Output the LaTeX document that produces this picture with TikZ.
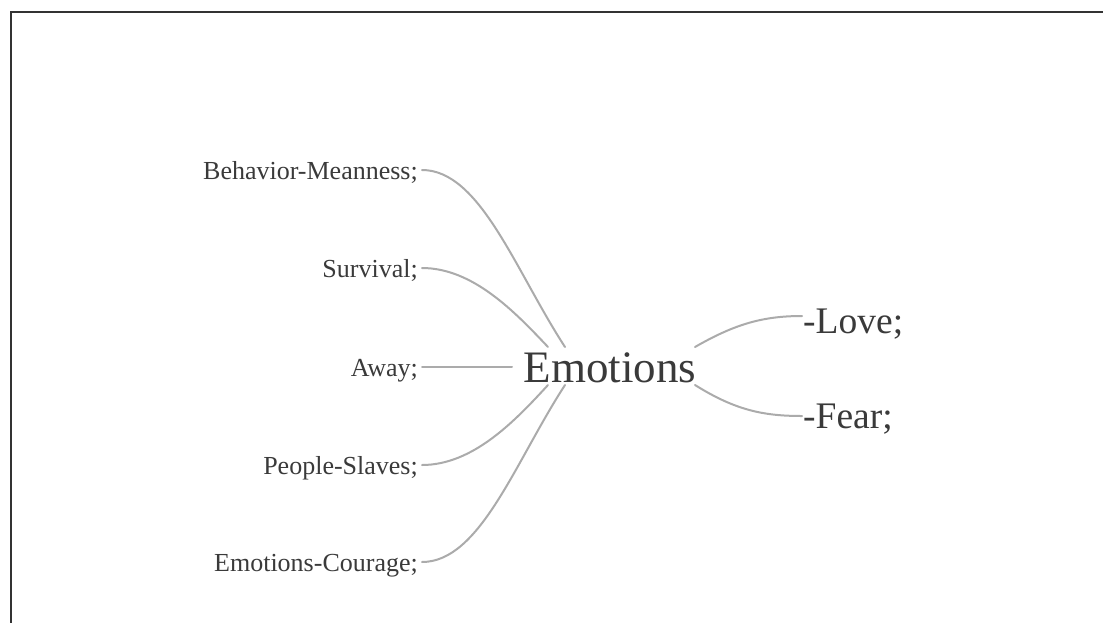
\documentclass[tikz,border=0pt]{standalone}
\usepackage{fontspec}
\setmainfont{Liberation Serif}
\usetikzlibrary{calc}
\definecolor{txt}{HTML}{3A3A3A}
\definecolor{lnk}{HTML}{ABABAB}
\definecolor{frm}{HTML}{333333}
\begin{document}
\begin{tikzpicture}[x=1pt,y=-1pt,
  leaf/.style={inner sep=0pt,text=txt,anchor=base east,font=\fontsize{26}{30}\selectfont},
  rleaf/.style={inner sep=0pt,text=txt,anchor=base west,font=\fontsize{37.5}{42}\selectfont},
  root/.style={inner sep=0pt,text=txt,anchor=base,font=\fontsize{45}{52}\selectfont},
  link/.style={draw=lnk,line width=2pt,line cap=round}]
\useasboundingbox (0,0) rectangle (1103,622);
\draw[frm,line width=2pt] (10.5,630) -- (10.5,11.5) -- (1110,11.5);

\node[root] (em) at (610,382) {Emotions};

\node[leaf] (b) at (418,179) {Behavior-Meanness;};
\node[leaf] (s) at (418,277) {Survival;};
\node[leaf] (a) at (418,376) {Away;};
\node[leaf] (p) at (418,474) {People-Slaves;};
\node[leaf] (c) at (418,571) {Emotions-Courage;};

\node[rleaf] (l) at (803,333) {-Love;};
\node[rleaf] (f) at (803,428) {-Fear;};

% left links
\draw[link] ($(b.base east)+(4,-9)$) .. controls ($(b.base east)+(62,-9)$) and ($(em.base)+(-95,-112)$) .. ($(em.base)+(-45,-35)$);
\draw[link] ($(s.base east)+(4,-9)$) .. controls ($(s.base east)+(55,-9)$) and ($(em.base)+(-95,-70)$) .. ($(em.base)+(-62,-35)$);
\draw[link] ($(a.base east)+(4,-9)$) -- ($(em.base)+(-98,-15)$);
\draw[link] ($(p.base east)+(4,-9)$) .. controls ($(p.base east)+(55,-9)$) and ($(em.base)+(-95,39)$) .. ($(em.base)+(-62,3)$);
\draw[link] ($(c.base east)+(4,-9)$) .. controls ($(c.base east)+(62,-9)$) and ($(em.base)+(-95,80)$) .. ($(em.base)+(-45,3)$);

% right links
\draw[link] ($(em.base)+(85,-35)$) .. controls ($(em.base)+(125,-58)$) and ($(l.base west)+(-40,-17)$) .. ($(l.base west)+(-1,-17)$);
\draw[link] ($(em.base)+(85,3)$) .. controls ($(em.base)+(125,28)$) and ($(f.base west)+(-40,-12)$) .. ($(f.base west)+(-1,-12)$);
\end{tikzpicture}
\end{document}
